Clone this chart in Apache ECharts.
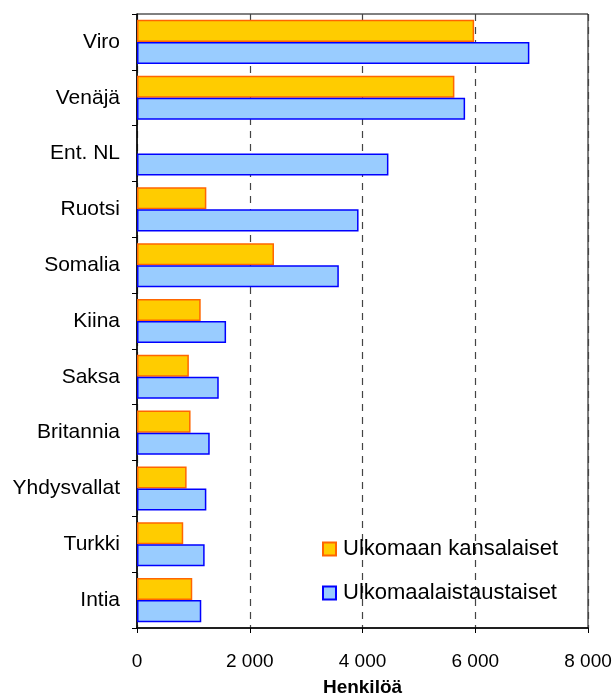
<!DOCTYPE html>
<html>
<head>
<meta charset="utf-8">
<script src="https://cdn.jsdelivr.net/npm/echarts@6/dist/echarts.min.js"></script>
<style>
  html, body { margin: 0; padding: 0; background: #fff; }
  #chart { width: 613px; height: 695px; }
</style>
</head>
<body>
<div id="chart"></div>
<script>
// maat ylhäältä alas
var maat = ['Viro', 'Venäjä', 'Ent. NL', 'Ruotsi', 'Somalia', 'Kiina', 'Saksa', 'Britannia', 'Yhdysvallat', 'Turkki', 'Intia'];
var kansalaiset = [5980, 5630, null, 1230, 2430, 1130, 920, 950, 880, 820, 980];
var taustaiset = [6960, 5820, 4460, 3930, 3580, 1580, 1450, 1290, 1230, 1200, 1140];
var xTicks = [0, 2000, 4000, 6000, 8000];

var chart = echarts.init(document.getElementById('chart'));

var option = {
  backgroundColor: '#ffffff',
  animation: false,
  textStyle: { fontFamily: 'Liberation Sans, Arial, sans-serif' },
  grid: {
    left: 137, right: 25, top: 14, bottom: 67,
    outerBoundsMode: 'none',
    containLabel: false,
    show: true, borderColor: '#000', borderWidth: 1
  },
  legend: {
    orient: 'vertical',
    left: 322, top: 538,
    padding: 0,
    icon: 'rect',
    itemWidth: 13, itemHeight: 13,
    itemGap: 22,
    textStyle: { fontSize: 22, color: '#000', padding: [0, 0, 0, 2] },
    data: ['Ulkomaan kansalaiset', 'Ulkomaalaistaustaiset']
  },
  xAxis: {
    type: 'value',
    min: xTicks[0], max: xTicks[xTicks.length - 1], interval: 2000,
    name: 'Henkilöä',
    nameLocation: 'middle',
    nameGap: 50,
    nameTextStyle: { fontSize: 19, fontWeight: 'bold', color: '#000' },
    axisLine: { show: true, lineStyle: { color: '#000', width: 1.5 } },
    axisTick: { show: true, length: 5, lineStyle: { color: '#000' } },
    axisLabel: {
      fontSize: 19, color: '#000', margin: 24,
      formatter: function (v) { return String(v).replace(/\B(?=(\d{3})+(?!\d))/g, ' '); }
    },
    splitLine: { show: true, lineStyle: { color: '#444', type: [7, 6], width: 1.2 } }
  },
  yAxis: {
    type: 'category',
    inverse: true,
    data: maat,
    axisLine: { show: true, lineStyle: { color: '#000', width: 1.5 } },
    axisTick: { show: true, length: 5, lineStyle: { color: '#000' } },
    axisLabel: { fontSize: 21, color: '#000', margin: 17 }
  },
  series: [
    {
      name: 'Ulkomaan kansalaiset',
      type: 'bar',
      data: kansalaiset,
      barGap: '0%',
      barCategoryGap: '21%',
      itemStyle: { color: '#FFCC00', borderColor: '#FF6600', borderWidth: 1.5 }
    },
    {
      name: 'Ulkomaalaistaustaiset',
      type: 'bar',
      data: taustaiset,
      barGap: '0%',
      barCategoryGap: '21%',
      itemStyle: { color: '#99CCFF', borderColor: '#0000FF', borderWidth: 1.5 }
    }
  ]
};

chart.setOption(option);
</script>
</body>
</html>
